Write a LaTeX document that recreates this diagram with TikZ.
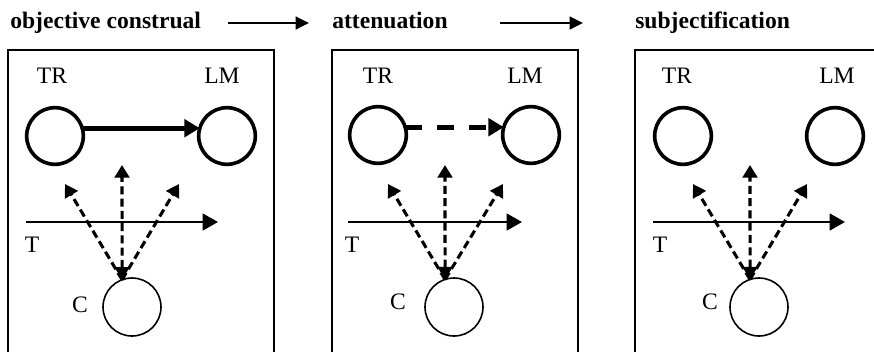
\documentclass[tikz,border=0pt]{standalone}
\usepackage{fontspec}
\setmainfont{Liberation Serif}
\usetikzlibrary{arrows.meta}
\begin{document}
\begin{tikzpicture}[x=0.75pt,y=-0.75pt,
  lbl/.style={inner sep=0pt, anchor=base, font=\fontsize{17.7}{20}\selectfont},
  hdr/.style={inner sep=0pt, anchor=base west, font=\fontsize{17.7}{20}\selectfont\bfseries},
  ent/.style={circle, draw, line width=2.7pt, minimum size=42.5pt, inner sep=0pt, outer sep=0pt},
  cons/.style={circle, draw, line width=1.2pt, minimum size=43.5pt, inner sep=0pt, outer sep=0pt},
  frame/.style={line width=1.3pt},
  hdrarrow/.style={line width=1.8pt, -{Triangle[length=10pt,width=9.5pt]}},
  timearrow/.style={line width=1.9pt, -{Triangle[length=11.5pt,width=12.5pt]}},
  relsolid/.style={line width=4pt, -{Triangle[length=11.5pt,width=13pt]}},
  reldash/.style={line width=4pt, dash pattern=on 12.75pt off 11.25pt, -{Triangle[length=11.5pt,width=13pt]}},
  view/.style={line width=2.3pt, dash pattern=on 6pt off 3.2pt, -{Triangle[length=9.5pt,width=11pt]}},
  viewboth/.style={line width=2.3pt, dash pattern=on 6pt off 3.2pt, {Triangle[length=9.5pt,width=11pt]}-{Triangle[length=9.5pt,width=11pt]}}
]
\useasboundingbox (0,0) rectangle (874,351);
\clip (0,0) rectangle (874,351);

% headers
\node[hdr] (h1) at (10,28) {objective construal};
\node[hdr] (h2) at (332,28) {attenuation};
\node[hdr] (h3) at (635,28) {subjectification};
\coordinate (a1s) at (228,23); \coordinate (a1e) at (309,23);
\coordinate (a2s) at (500,23); \coordinate (a2e) at (583,23);
\draw[hdrarrow] (a1s) -- (a1e);
\draw[hdrarrow] (a2s) -- (a2e);

% frames
\draw[frame] (8,360) -- (8,50) -- (274,50) -- (274,360);
\draw[frame] (332,360) -- (332,50) -- (578,50) -- (578,360);
\draw[frame] (635,360) -- (635,50) -- (885,50);

% ---------- panel 1 ----------
\node[lbl] (tr1l) at (52,83) {TR};
\node[lbl] (lm1l) at (222,83) {LM};
\node[ent] (TR1) at (55,136) {};
\node[ent] (LM1) at (227,136) {};
\draw[relsolid] (TR1.16) -- (LM1.164);
\node[cons] (C1) at (132,307) {};
\node[lbl] (c1l) at (80,312) {C};
\coordinate (t1s) at (26,222); \coordinate (t1e) at (218,222);
\draw[timearrow] (t1s) -- (t1e);
\node[lbl] (t1l) at (32,252) {T};
\coordinate (v1m) at (122,165);
\coordinate (v1l) at (65,184);
\coordinate (v1r) at (179,184);
\draw[view] (C1.110) -- (v1l);
\draw[view] (C1.110) -- (v1r);
\draw[viewboth] (C1.110) -- (v1m);

% ---------- panel 2 ----------
\node[lbl] (tr2l) at (378,83) {TR};
\node[lbl] (lm2l) at (525,83) {LM};
\node[ent] (TR2) at (378,135) {};
\node[ent] (LM2) at (531,135) {};
\draw[reldash] (TR2.16) -- (LM2.164);
\node[cons] (C2) at (454,307) {};
\node[lbl] (c2l) at (398,309) {C};
\coordinate (t2s) at (348,222); \coordinate (t2e) at (522,222);
\draw[timearrow] (t2s) -- (t2e);
\node[lbl] (t2l) at (352,252) {T};
\coordinate (v2m) at (445,165);
\coordinate (v2l) at (388,184);
\coordinate (v2r) at (503,184);
\draw[view] (C2.108) -- (v2l);
\draw[view] (C2.108) -- (v2r);
\draw[viewboth] (C2.108) -- (v2m);

% ---------- panel 3 ----------
\node[lbl] (tr3l) at (677,83) {TR};
\node[lbl] (lm3l) at (837,83) {LM};
\node[ent] (TR3) at (683,136) {};
\node[ent] (LM3) at (835,136) {};
\node[cons] (C3) at (759,307) {};
\node[lbl] (c3l) at (710,309) {C};
\coordinate (t3s) at (653,222); \coordinate (t3e) at (845,222);
\draw[timearrow] (t3s) -- (t3e);
\node[lbl] (t3l) at (660,252) {T};
\coordinate (v3m) at (750,165);
\coordinate (v3l) at (693,184);
\coordinate (v3r) at (807,184);
\draw[view] (C3.108) -- (v3l);
\draw[view] (C3.108) -- (v3r);
\draw[viewboth] (C3.108) -- (v3m);
\end{tikzpicture}
\end{document}
